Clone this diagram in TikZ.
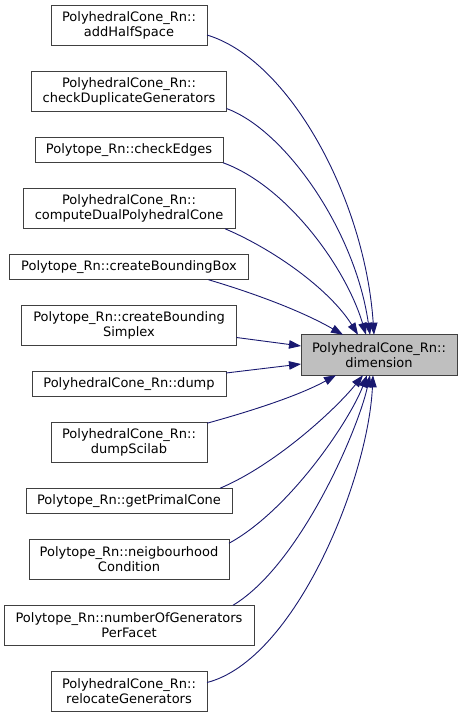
\documentclass[tikz,border=0pt]{standalone}
\usepackage{fontspec}
\setmainfont{DejaVu Sans}
\usetikzlibrary{arrows.meta,positioning}
\definecolor{edgeblue}{HTML}{191970}
\definecolor{boxline}{HTML}{404040}
\definecolor{hilite}{HTML}{BFBFBF}

\begin{document}
\begin{tikzpicture}[x=1pt,y=-1pt,>={Triangle[length=12pt,width=8.5pt]},
  fn/.style={draw=boxline,fill=white,align=center,inner sep=0pt,outer sep=0pt,minimum height=25.5pt,
    line width=0.9pt,font=\fontsize{13}{15}\selectfont},
  fn2/.style={fn,minimum height=40.5pt},
  call/.style={->,draw=edgeblue,fill=none,line width=0.9pt}]
  \useasboundingbox (0,0) rectangle (463,717);
  % callers, top to bottom
  \node[fn2,minimum width=156pt] (addHS) at (129,25.5) {PolyhedralCone\_Rn::\\addHalfSpace};
  \node[fn2,minimum width=195pt,below=25.5pt of addHS] (chkDup) {PolyhedralCone\_Rn::\\checkDuplicateGenerators};
  \node[fn,minimum width=188pt,below=25.5pt of chkDup] (chkEdges) {Polytope\_Rn::checkEdges};
  \node[fn2,minimum width=212pt,below=25.5pt of chkEdges] (dualCone) {PolyhedralCone\_Rn::\\computeDualPolyhedralCone};
  \node[fn,minimum width=239pt,below=25.5pt of dualCone] (bbox) {Polytope\_Rn::createBoundingBox};
  \node[fn2,minimum width=215pt,below=25.5pt of bbox] (bsimplex) {Polytope\_Rn::createBounding\\Simplex};
  \node[fn,minimum width=194pt,below=25.5pt of bsimplex] (dump) {PolyhedralCone\_Rn::dump};
  \node[fn2,minimum width=156pt,below=25.5pt of dump] (scilab) {PolyhedralCone\_Rn::\\dumpScilab};
  \node[fn,minimum width=206pt,below=25.5pt of scilab] (primal) {Polytope\_Rn::getPrimalCone};
  \node[fn2,minimum width=200pt,below=25.5pt of primal] (neigh) {Polytope\_Rn::neigbourhood\\Condition};
  \node[fn2,minimum width=250pt,below=25.5pt of neigh] (perFacet) {Polytope\_Rn::numberOfGenerators\\PerFacet};
  \node[fn2,minimum width=156pt,below=25.5pt of perFacet] (reloc) {PolyhedralCone\_Rn::\\relocateGenerators};
  % the called function
  \node[fn2,minimum width=156pt,fill=hilite] (dim) at (379,355) {PolyhedralCone\_Rn::\\dimension};
  % calls
  \draw[call] ([yshift=-9.5pt]addHS.east) .. controls (290,60) and (365,200) .. ([xshift=-5pt]dim.north);
  \draw[call] ([yshift=-17pt]chkDup.east) .. controls (285,130) and (355,230) .. ([xshift=-9pt]dim.north);
  \draw[call] (chkEdges.south east) .. controls (285,185) and (345,265) .. ([xshift=-13pt]dim.north);
  \draw[call] ([xshift=-10pt]dualCone.south east) .. controls (275,250) and (330,290) .. ([xshift=-21pt]dim.north);
  \draw[call] ([xshift=-40pt]bbox.south east) .. controls (250,292) and (300,310) .. ([xshift=-36pt]dim.north);
  \draw[call] ([yshift=-12pt]bsimplex.east) -- ([yshift=9pt]dim.west);
  \draw[call] ([yshift=11pt]dump.east) -- ([yshift=-9pt]dim.west);
  \draw[call] ([yshift=-1pt]scilab.north east) .. controls (255,410) and (300,395) .. ([xshift=-43pt]dim.south);
  \draw[call] ([xshift=-12pt]primal.north east) .. controls (275,465) and (335,410) .. ([xshift=-16pt]dim.south);
  \draw[call] ([yshift=-4pt]neigh.north east) .. controls (290,510) and (350,420) .. ([xshift=-12pt]dim.south);
  \draw[call] ([xshift=-21pt]perFacet.north east) .. controls (300,565) and (358,430) .. ([xshift=-9pt]dim.south);
  \draw[call] ([yshift=9pt]reloc.east) .. controls (295,660) and (368,480) .. ([xshift=-6pt]dim.south);
\end{tikzpicture}
\end{document}
